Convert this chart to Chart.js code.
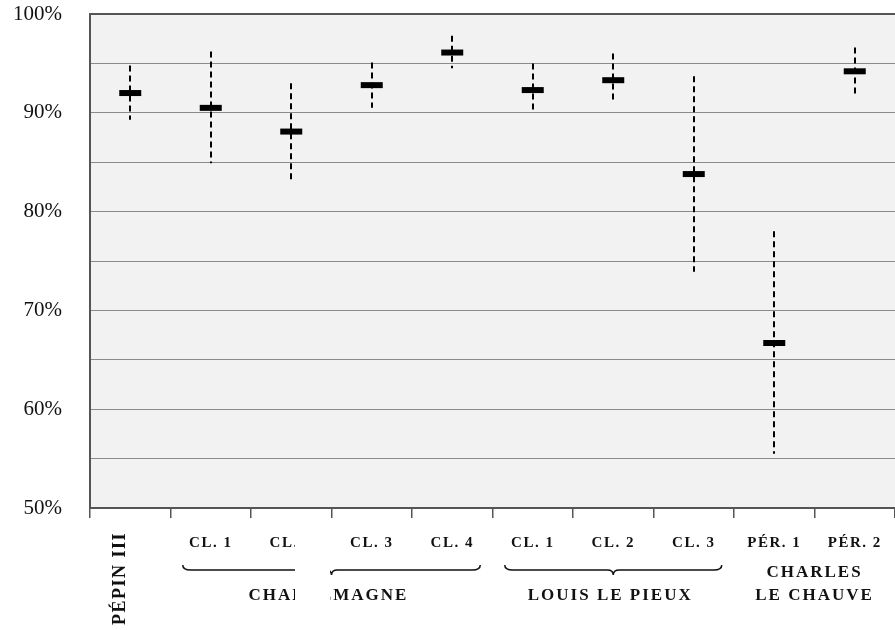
<!DOCTYPE html>
<html>
<head>
<meta charset="utf-8">
<script src="https://cdn.jsdelivr.net/npm/chart.js@4"></script>
<style>
  html, body { margin: 0; padding: 0; background: #fff; overflow: hidden; }
  #wrap { width: 895px; height: 630px; }
  canvas { display: block; }
</style>
</head>
<body>
<div id="wrap"><canvas id="chart" width="895" height="630"></canvas></div>
<script>
const categories = ['PÉPIN III', 'CL. 1', 'CL. 2', 'CL. 3', 'CL. 4', 'CL. 1', 'CL. 2', 'CL. 3', 'PÉR. 1', 'PÉR. 2'];
const means = [92.0, 90.5, 88.1, 92.8, 96.1, 92.3, 93.3, 83.8, 66.7, 94.2];
const lows = [89.3, 84.9, 83.2, 90.5, 94.5, 90.1, 91.2, 73.9, 55.5, 91.8];
const highs = [94.8, 96.2, 93.0, 95.1, 97.8, 95.0, 96.0, 93.7, 78.0, 96.6];

// groups under the category labels
const groupNames = [['CHARLEMAGNE'], ['LOUIS LE PIEUX'], ['CHARLES', 'LE CHAUVE']];
const groupFirst = [1, 5, 8];
const groupLast = [4, 7, 9];
const groupBrace = [true, true, false];

const serif = '"Liberation Serif", serif';

function brace(ctx, x1, x2, y) {
    const mid = (x1 + x2) / 2;
    ctx.beginPath();
    ctx.moveTo(x1, y - 5);
    ctx.quadraticCurveTo(x1, y, x1 + 8, y);
    ctx.lineTo(mid - 6, y);
    ctx.quadraticCurveTo(mid, y, mid, y + 5);
    ctx.quadraticCurveTo(mid, y, mid + 6, y);
    ctx.lineTo(x2 - 8, y);
    ctx.quadraticCurveTo(x2, y, x2, y - 5);
    ctx.stroke();
}

function noPad(scale) {
    scale.paddingTop = 0;
    scale.paddingBottom = 0;
    scale.paddingLeft = 0;
    scale.paddingRight = 0;
}

const framePlugin = {
    id: 'frame',
    beforeDraw(chart) {
        const { ctx, chartArea: a } = chart;
        ctx.save();
        ctx.fillStyle = '#f2f2f2';
        ctx.fillRect(a.left, a.top, a.right - a.left, a.bottom - a.top);
        ctx.restore();
    },
    beforeDatasetsDraw(chart) {
        // dashed error bars
        const { ctx } = chart;
        const x = chart.scales.x, y = chart.scales.y;
        ctx.save();
        ctx.strokeStyle = '#000';
        ctx.lineWidth = 2;
        ctx.setLineDash([6, 4]);
        categories.forEach((c, i) => {
            const px = Math.round(x.getPixelForValue(i));
            ctx.beginPath();
            ctx.moveTo(px, y.getPixelForValue(highs[i]));
            ctx.lineTo(px, y.getPixelForValue(lows[i]));
            ctx.stroke();
        });
        ctx.restore();
    },
    afterDraw(chart) {
        const { ctx, chartArea: a } = chart;
        const x = chart.scales.x;
        ctx.save();
        // top border
        ctx.strokeStyle = '#555';
        ctx.lineWidth = 2;
        ctx.beginPath();
        ctx.moveTo(a.left, a.top);
        ctx.lineTo(a.right, a.top);
        ctx.stroke();

        ctx.fillStyle = '#111';
        ctx.textBaseline = 'middle';
        ctx.letterSpacing = '1.5px';
        // category labels
        categories.forEach((c, i) => {
            const px = x.getPixelForValue(i);
            if (i === 0) {
                ctx.save();
                ctx.font = 'bold 18px ' + serif;
                ctx.translate(px - 10, 625);
                ctx.rotate(-Math.PI / 2);
                ctx.textAlign = 'left';
                ctx.fillText(c, 0, 0);
                ctx.restore();
            } else {
                ctx.font = 'bold 15px ' + serif;
                ctx.textAlign = 'center';
                ctx.fillText(c, px, 543);
            }
        });
        // braces and group names
        ctx.strokeStyle = '#111';
        ctx.lineWidth = 1.5;
        ctx.font = 'bold 17px ' + serif;
        ctx.letterSpacing = '2px';
        ctx.textAlign = 'center';
        groupNames.forEach((lines, g) => {
            const x1 = x.getPixelForValue(groupFirst[g]);
            const x2 = x.getPixelForValue(groupLast[g]);
            const mid = (x1 + x2) / 2;
            if (groupBrace[g]) {
                brace(ctx, x1 - 28, x2 + 28, 570);
                ctx.fillText(lines[0], mid - 3, 596);
            } else {
                lines.forEach((t, k) => ctx.fillText(t, mid, 573 + k * 23));
            }
        });
        // blank patch over part of the Charlemagne label, as in the source
        ctx.fillStyle = '#fff';
        ctx.fillRect(295, 522, 35, 90);
        ctx.restore();
    }
};

new Chart(document.getElementById('chart'), {
    type: 'line',
    data: {
        labels: categories,
        datasets: [{
            data: means,
            showLine: false,
            pointStyle: 'line',
            pointRadius: 11,
            pointHoverRadius: 11,
            pointBorderWidth: 6,
            pointHoverBorderWidth: 6,
            pointBorderColor: '#000',
            pointBackgroundColor: '#000'
        }]
    },
    options: {
        responsive: false,
        animation: false,
        layout: { autoPadding: false, padding: { top: 14, right: 0, left: 0, bottom: 0 } },
        plugins: {
            legend: { display: false },
            tooltip: { enabled: false }
        },
        scales: {
            x: {
                offset: true,
                afterFit(scale) { scale.height = 122; noPad(scale); },
                grid: {
                    offset: true,
                    drawOnChartArea: false,
                    drawTicks: true,
                    tickLength: 10,
                    color: '#555',
                    lineWidth: 1.5
                },
                border: { color: '#555', width: 2 },
                ticks: { display: false }
            },
            y: {
                min: 50,
                max: 100,
                afterFit(scale) { scale.width = 90; noPad(scale); },
                grid: {
                    color: '#8a8a8a',
                    lineWidth: 1,
                    drawTicks: false
                },
                border: { color: '#555', width: 2 },
                ticks: {
                    stepSize: 5,
                    padding: 28,
                    color: '#111',
                    font: { family: serif, size: 21 },
                    callback: v => (v % 10 === 0 ? v + '%' : '')
                }
            }
        }
    },
    plugins: [framePlugin]
});
</script>
</body>
</html>
